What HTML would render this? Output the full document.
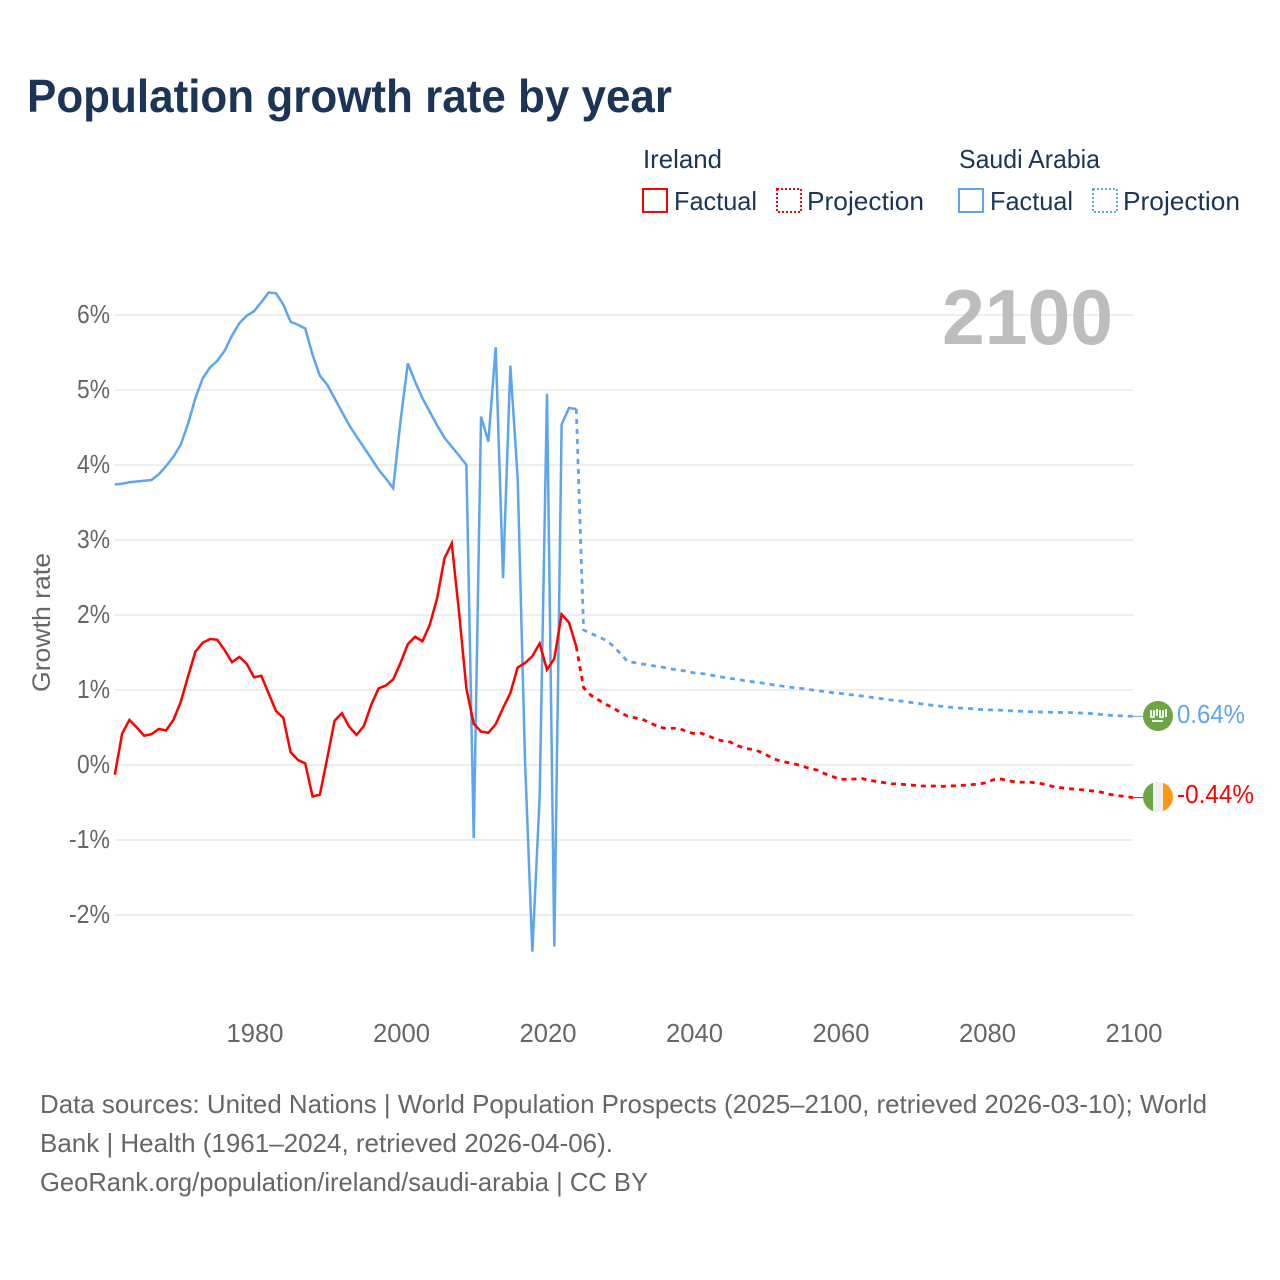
<!DOCTYPE html>
<html lang="en">
<head>
<meta charset="utf-8">
<title>Population growth rate by year</title>
<style>
html,body{margin:0;padding:0;background:#fff;}
svg{display:block;}
text{font-family:"Liberation Sans",sans-serif;}
</style>
</head>
<body>
<svg id="chart" xmlns="http://www.w3.org/2000/svg" width="1280" height="1280" viewBox="0 0 1280 1280">
  <rect x="0" y="0" width="1280" height="1280" fill="#ffffff"/>
  <text x="27" y="112" font-size="46" font-weight="700" fill="#1a3557" textLength="645" lengthAdjust="spacingAndGlyphs">Population growth rate by year</text>

  <g fill="#1a3557" font-size="26">
    <text x="643" y="168" textLength="79" lengthAdjust="spacingAndGlyphs">Ireland</text>
    <text x="959" y="168" textLength="141" lengthAdjust="spacingAndGlyphs">Saudi Arabia</text>
    <rect x="643" y="189" width="24" height="23" fill="none" stroke="#ff0000" stroke-width="2"/>
    <text x="674" y="210" textLength="83" lengthAdjust="spacingAndGlyphs">Factual</text>
    <rect x="777" y="189" width="24" height="23" fill="none" stroke="#ff0000" stroke-width="2" stroke-dasharray="2 2"/>
    <text x="807" y="210" textLength="117" lengthAdjust="spacingAndGlyphs">Projection</text>
    <rect x="959" y="189" width="24" height="23" fill="none" stroke="#5da5ee" stroke-width="2"/>
    <text x="990" y="210" textLength="83" lengthAdjust="spacingAndGlyphs">Factual</text>
    <rect x="1093" y="189" width="24" height="23" fill="none" stroke="#5da5ee" stroke-width="2" stroke-dasharray="2 2"/>
    <text x="1123" y="210" textLength="117" lengthAdjust="spacingAndGlyphs">Projection</text>
  </g>

  <g id="grid"></g>
  <text x="942" y="344" font-size="78" font-weight="700" fill="#bdbdbd" textLength="171" lengthAdjust="spacingAndGlyphs">2100</text>
  <g id="yticks" font-size="26" fill="#666666"></g>
  <g id="xticks" font-size="26" fill="#666666"></g>
  <text transform="translate(50,692) rotate(-90)" font-size="25" fill="#666666" textLength="139" lengthAdjust="spacingAndGlyphs">Growth rate</text>

  <g id="series"></g>

  <g>
    <circle cx="1158" cy="716" r="15" fill="#6da544"/>
    <path d="M1151 710v7h3v-7M1157 709v7M1160 710v7h3v-7M1166 709v8M1152 721h11" fill="none" stroke="#ffffff" stroke-width="1.8"/>
  </g>
  <text x="1177" y="723" font-size="26" fill="#5da5ee" textLength="68" lengthAdjust="spacingAndGlyphs">0.64%</text>

  <g>
    <clipPath id="ieClip"><circle cx="1158" cy="797" r="15"/></clipPath>
    <g clip-path="url(#ieClip)">
      <rect x="1143" y="782" width="10" height="30" fill="#6da544"/>
      <rect x="1153" y="782" width="10" height="30" fill="#f0f0f0"/>
      <rect x="1163" y="782" width="10" height="30" fill="#ff9811"/>
    </g>
  </g>
  <text x="1177" y="803" font-size="26" fill="#ff0000" textLength="77" lengthAdjust="spacingAndGlyphs">-0.44%</text>

  <g font-size="26" fill="#666666">
    <text x="40" y="1113" textLength="1167" lengthAdjust="spacingAndGlyphs">Data sources: United Nations | World Population Prospects (2025–2100, retrieved 2026-03-10); World</text>
    <text x="40" y="1152" textLength="573" lengthAdjust="spacingAndGlyphs">Bank | Health (1961–2024, retrieved 2026-04-06).</text>
    <text x="40" y="1191" textLength="608" lengthAdjust="spacingAndGlyphs">GeoRank.org/population/ireland/saudi-arabia | CC BY</text>
  </g>
</svg>
<script>
const yTickValues = [6, 5, 4, 3, 2, 1, 0, -1, -2];
const xTickYears = [1980, 2000, 2020, 2040, 2060, 2080, 2100];
const firstFactualYear = 1961;
const firstProjectionYear = 2025;

const irelandFactual = [
  -0.13,0.42,0.60,0.50,0.39,0.41,0.48,0.46,0.60,0.84,
  1.18,1.51,1.63,1.68,1.67,1.53,1.37,1.44,1.35,1.17,
  1.19,0.955,0.72,0.63,0.17,0.067,0.022,-0.42,-0.395,0.09,
  0.59,0.69,0.51,0.40,0.52,0.80,1.02,1.06,1.14,1.36,
  1.61,1.71,1.65,1.87,2.22,2.755,2.955,2.03,1.02,0.55,
  0.445,0.43,0.545,0.76,0.96,1.30,1.36,1.45,1.62,1.27,
  1.42,2.01,1.90,1.58
];
const irelandProjection = [
  1.03,0.93,0.87,0.81,0.765,0.70,
  0.65,0.63,0.61,0.565,0.52,0.49,0.49,0.49,0.45,0.42,
  0.425,0.39,0.347,0.32,0.307,0.26,0.22,0.21,0.18,0.133,
  0.08,0.05,0.03,0.01,-0.02,-0.05,-0.07,-0.12,-0.155,-0.19,
  -0.19,-0.187,-0.18,-0.205,-0.22,-0.235,-0.25,-0.253,-0.262,-0.27,
  -0.28,-0.28,-0.28,-0.285,-0.28,-0.276,-0.27,-0.262,-0.253,-0.235,
  -0.195,-0.187,-0.21,-0.227,-0.23,-0.23,-0.24,-0.258,-0.285,-0.30,
  -0.315,-0.32,-0.33,-0.342,-0.35,-0.37,-0.395,-0.41,-0.42,-0.435
];
const saudiFactual = [
  3.74,3.75,3.77,3.78,3.79,3.80,3.875,3.985,4.11,4.27,
  4.55,4.89,5.155,5.30,5.39,5.525,5.725,5.89,5.99,6.05,
  6.17,6.30,6.29,6.14,5.91,5.87,5.82,5.47,5.19,5.07,
  4.89,4.71,4.53,4.38,4.235,4.09,3.94,3.82,3.69,4.58,
  5.355,5.11,4.89,4.71,4.53,4.365,4.245,4.125,4.0,-0.977,
  4.645,4.31,5.57,2.49,5.325,3.82,0.07,-2.49,-0.42,4.95,
  -2.42,4.54,4.76,4.747
];
const saudiProjection = [
  1.80,1.755,1.71,1.667,1.59,1.49,
  1.38,1.365,1.347,1.333,1.315,1.30,1.28,1.267,1.25,1.23,
  1.222,1.205,1.187,1.17,1.155,1.143,1.124,1.11,1.098,1.084,
  1.067,1.053,1.04,1.027,1.018,1.004,0.99,0.978,0.964,0.955,
  0.942,0.93,0.92,0.907,0.893,0.88,0.867,0.857,0.844,0.83,
  0.817,0.804,0.79,0.782,0.77,0.762,0.755,0.75,0.742,0.737,
  0.733,0.73,0.724,0.72,0.716,0.71,0.707,0.707,0.702,0.702,
  0.70,0.697,0.693,0.689,0.68,0.67,0.662,0.657,0.653,0.649
];

const SVG_NS = 'http://www.w3.org/2000/svg';
const RED = '#ff0000';
const BLUE = '#5da5ee';
function xScale(year) { return 114.8 + (year - 1961) * 7.325; }
function yScale(value) { return 765 - value * 75; }
function pathFrom(startYear, values) {
  return values.map(function (v, i) {
    return (i ? 'L' : 'M') + xScale(startYear + i).toFixed(2) + ' ' + yScale(v).toFixed(2);
  }).join(' ');
}

const grid = document.getElementById('grid');
const yticks = document.getElementById('yticks');
yTickValues.forEach(function (v) {
  const line = document.createElementNS(SVG_NS, 'line');
  
  
  line.setAttribute('x1', 115);
  line.setAttribute('x2', 1133);
  line.setAttribute('y1', yScale(v));
  line.setAttribute('y2', yScale(v));
  line.setAttribute('stroke', '#eeeeee');
  line.setAttribute('stroke-width', 2);
  grid.appendChild(line);
  const label = document.createElementNS(SVG_NS, 'text');
  
  
  label.setAttribute('x', v < 0 ? 69 : 77);
  label.setAttribute('y', yScale(v) + 8);
  label.setAttribute('textLength', v < 0 ? 41 : 33);
  label.setAttribute('lengthAdjust', 'spacingAndGlyphs');
  label.textContent = v + '%';
  yticks.appendChild(label);
});

const xticks = document.getElementById('xticks');
xTickYears.forEach(function (year) {
  const label = document.createElementNS(SVG_NS, 'text');
  
  
  label.setAttribute('x', xScale(year) + 1 - 28.5);
  label.setAttribute('y', 1042);
  label.setAttribute('textLength', 57);
  label.setAttribute('lengthAdjust', 'spacingAndGlyphs');
  label.textContent = year;
  xticks.appendChild(label);
});

const seriesGroup = document.getElementById('series');

const saudiFactualPath = document.createElementNS(SVG_NS, 'path');


saudiFactualPath.setAttribute('d', pathFrom(firstFactualYear, saudiFactual));
saudiFactualPath.setAttribute('fill', 'none');
saudiFactualPath.setAttribute('stroke', BLUE);
saudiFactualPath.setAttribute('stroke-width', 2.5);
seriesGroup.appendChild(saudiFactualPath);

const saudiProjectionPath = document.createElementNS(SVG_NS, 'path');


saudiProjectionPath.setAttribute('d', pathFrom(firstProjectionYear - 1, [saudiFactual[saudiFactual.length - 1]].concat(saudiProjection)));
saudiProjectionPath.setAttribute('fill', 'none');
saudiProjectionPath.setAttribute('stroke', BLUE);
saudiProjectionPath.setAttribute('stroke-width', 2.8);
saudiProjectionPath.setAttribute('stroke-dasharray', '5 5');
seriesGroup.appendChild(saudiProjectionPath);

const irelandFactualPath = document.createElementNS(SVG_NS, 'path');


irelandFactualPath.setAttribute('d', pathFrom(firstFactualYear, irelandFactual));
irelandFactualPath.setAttribute('fill', 'none');
irelandFactualPath.setAttribute('stroke', RED);
irelandFactualPath.setAttribute('stroke-width', 2.5);
seriesGroup.appendChild(irelandFactualPath);

const irelandProjectionPath = document.createElementNS(SVG_NS, 'path');


irelandProjectionPath.setAttribute('d', pathFrom(firstProjectionYear - 1, [irelandFactual[irelandFactual.length - 1]].concat(irelandProjection)));
irelandProjectionPath.setAttribute('fill', 'none');
irelandProjectionPath.setAttribute('stroke', RED);
irelandProjectionPath.setAttribute('stroke-width', 2.8);
irelandProjectionPath.setAttribute('stroke-dasharray', '5 5');
seriesGroup.appendChild(irelandProjectionPath);

const saudiConnector = document.createElementNS(SVG_NS, 'line');


saudiConnector.setAttribute('x1', xScale(2100));
saudiConnector.setAttribute('x2', 1143);
saudiConnector.setAttribute('y1', yScale(saudiProjection[saudiProjection.length - 1]));
saudiConnector.setAttribute('y2', yScale(saudiProjection[saudiProjection.length - 1]));
saudiConnector.setAttribute('stroke', BLUE);
saudiConnector.setAttribute('stroke-width', 1);
seriesGroup.appendChild(saudiConnector);

const irelandConnector = document.createElementNS(SVG_NS, 'line');


irelandConnector.setAttribute('x1', xScale(2100));
irelandConnector.setAttribute('x2', 1143);
irelandConnector.setAttribute('y1', yScale(irelandProjection[irelandProjection.length - 1]));
irelandConnector.setAttribute('y2', yScale(irelandProjection[irelandProjection.length - 1]));
irelandConnector.setAttribute('stroke', RED);
irelandConnector.setAttribute('stroke-width', 1);
seriesGroup.appendChild(irelandConnector);
</script>
</body>
</html>
